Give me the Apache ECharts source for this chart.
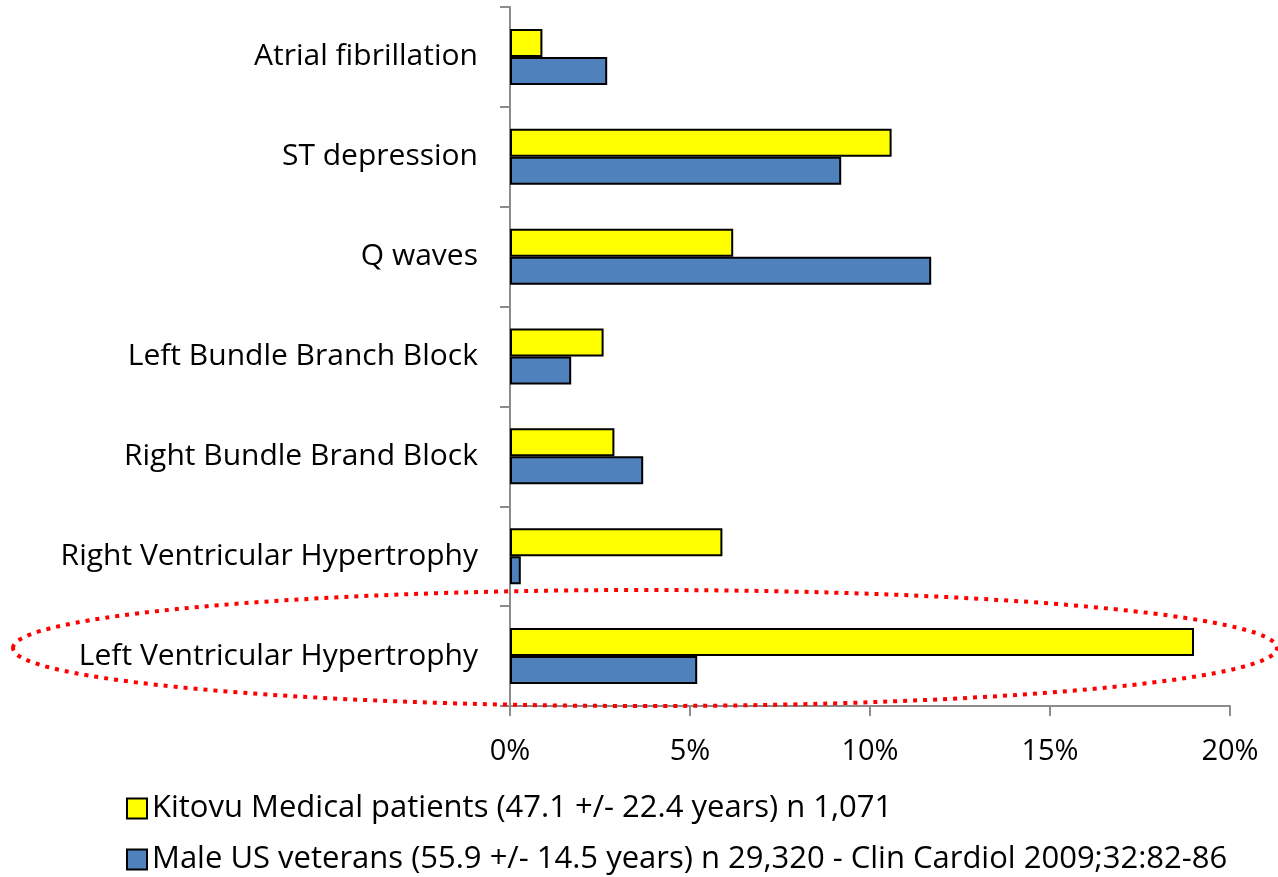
<!DOCTYPE html>
<html><head><meta charset="utf-8">
<script src="https://cdn.jsdelivr.net/npm/echarts@6/dist/echarts.min.js"></script>
<style>html,body{margin:0;padding:0;background:#fff}#c{width:1278px;height:877px}</style>
</head><body><div id="c"></div>
<script>
const categories = ["Atrial fibrillation","ST depression","Q waves","Left Bundle Branch Block","Right Bundle Brand Block","Right Ventricular Hypertrophy","Left Ventricular Hypertrophy"];
const seriesNames = ["Kitovu Medical patients (47.1 +/- 22.4 years) n 1,071","Male US veterans (55.9 +/- 14.5 years) n 29,320 - Clin Cardiol 2009;32:82-86"];
const kitovu = [0.9, 10.6, 6.2, 2.6, 2.9, 5.9, 19.0];
const veterans = [2.7, 9.2, 11.7, 1.7, 3.7, 0.3, 5.2];
const xTicks = [0, 5, 10, 15, 20];

const font = "Open Sans";
const chart = echarts.init(document.getElementById('c'));
chart.setOption({
  animation:false,
  textStyle:{fontFamily:font},
  grid:{left:510,right:48,top:7,bottom:171,containLabel:false},
  legend:{
    orient:'vertical', left:126, top:793, itemGap:20, padding:0,
    itemWidth:20, itemHeight:20, icon:'rect',
    textStyle:{fontSize:31, color:'#000', fontFamily:font, padding:[0,0,0,0]},
    data:seriesNames
  },
  xAxis:{type:'value', min:xTicks[0], max:xTicks[xTicks.length-1], interval:5,
    axisLine:{show:true,lineStyle:{color:'#8c8c8c',width:2}},
    axisTick:{show:true,length:10,lineStyle:{color:'#8c8c8c',width:2}},
    splitLine:{show:false},
    axisLabel:{formatter:'{value}%',fontSize:29,color:'#000',margin:31}
  },
  yAxis:{type:'category', data:categories, inverse:true,
    axisLine:{show:true,lineStyle:{color:'#8c8c8c',width:2}},
    axisTick:{show:true,length:10,lineStyle:{color:'#8c8c8c',width:2}},
    axisLabel:{fontSize:30,color:'#000',margin:32,lineHeight:34,padding:[4,0,0,0]}
  },
  series:[
    {name:seriesNames[0],type:'bar',data:kitovu,barWidth:28,barGap:'0%',
     itemStyle:{color:'#ffff00',borderColor:'#000',borderWidth:2}},
    {name:seriesNames[1],type:'bar',data:veterans,barWidth:28,barGap:'0%',
     itemStyle:{color:'#4f81bd',borderColor:'#000',borderWidth:2}}
  ],
  graphic:[{type:'ellipse',shape:{cx:645,cy:648,rx:632,ry:58},
    style:{fill:null,stroke:'#ff0000',lineWidth:4,lineDash:[4,6]},z:100}]
});
</script></body></html>
